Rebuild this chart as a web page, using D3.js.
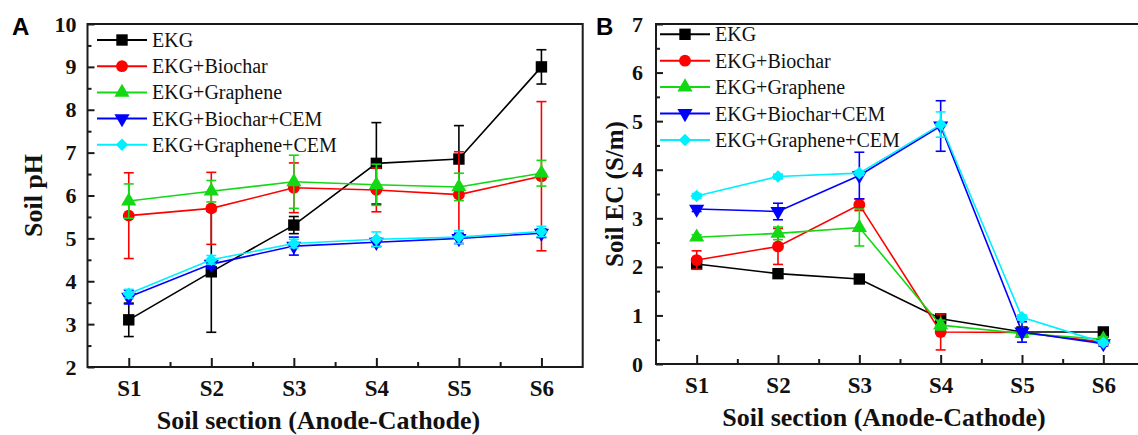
<!DOCTYPE html>
<html>
<head>
<meta charset="utf-8">
<script src="https://cdn.jsdelivr.net/npm/d3@7"></script>
<style>
  body { margin: 0; background: #fff; }
  svg { display: block; }
  .tick text { font-family: "Liberation Serif", "Times New Roman", serif; font-weight: bold; }
</style>
</head>
<body>
<div id="vis-container"></div>
<script>
// categories and series
const sections = ["S1", "S2", "S3", "S4", "S5", "S6"];
const seriesNames = ["EKG", "EKG+Biochar", "EKG+Graphene", "EKG+Biochar+CEM", "EKG+Graphene+CEM"];
const seriesColors = ["#000000", "#ff0000", "#14d814", "#0000ff", "#00f0ff"];

// panel A - soil pH (mean, error)
const phEKG = [3.1, 4.22, 5.31, 6.75, 6.85, 9.0];
const phEKGErr = [0.39, 1.41, 0.2, 0.95, 0.78, 0.4];
const phBiochar = [5.53, 5.7, 6.18, 6.13, 6.02, 6.45];
const phBiocharErr = [1.0, 0.84, 0.58, 0.51, 1.0, 1.74];
const phGraphene = [5.87, 6.1, 6.32, 6.25, 6.2, 6.52];
const phGrapheneErr = [0.4, 0.25, 0.62, 0.48, 0.32, 0.3];
const phBiocharCEM = [3.63, 4.4, 4.82, 4.91, 5.0, 5.12];
const phBiocharCEMErr = [0.16, 0.1, 0.21, 0.1, 0.12, 0.1];
const phGrapheneCEM = [3.71, 4.5, 4.88, 4.98, 5.03, 5.16];
const phGrapheneCEMErr = [0.1, 0.1, 0.1, 0.17, 0.15, 0.12];

// panel B - soil EC (mean, error)
const ecEKG = [2.06, 1.86, 1.75, 0.93, 0.66, 0.66];
const ecEKGErr = [0.05, 0.05, 0.05, 0.1, 0.05, 0.05];
const ecBiochar = [2.14, 2.42, 3.28, 0.66, 0.65, 0.45];
const ecBiocharErr = [0.19, 0.37, 0.12, 0.37, 0.05, 0.05];
const ecGraphene = [2.61, 2.69, 2.81, 0.8, 0.63, 0.51];
const ecGrapheneErr = [0.05, 0.13, 0.38, 0.1, 0.05, 0.05];
const ecBiocharCEM = [3.19, 3.14, 3.88, 4.9, 0.66, 0.42];
const ecBiocharCEMErr = [0.05, 0.17, 0.48, 0.52, 0.21, 0.05];
const ecGrapheneCEM = [3.46, 3.86, 3.93, 4.93, 0.96, 0.44];
const ecGrapheneCEMErr = [0.05, 0.05, 0.05, 0.26, 0.05, 0.05];

// tick values
const phTicks = [2, 3, 4, 5, 6, 7, 8, 9, 10];
const ecTicks = [0, 1, 2, 3, 4, 5, 6, 7];

const w = 1138, h = 435;
const serif = '"Liberation Serif", "Times New Roman", serif';

const svg = d3.select("#vis-container").append("svg")
    .attr("width", w)
    .attr("height", h);

const symbols = [
    d3.symbol().type(d3.symbolSquare).size(130),
    d3.symbol().type(d3.symbolCircle).size(110),
    d3.symbol().type(d3.symbolTriangle).size(100),
    d3.symbol().type(d3.symbolTriangle).size(100),
    d3.symbol().type(d3.symbolDiamond2).size(100)
];
const symbolRotate = [0, 0, 0, 180, 0];

function drawPanel(cfg) {
    const g = svg.append("g");
    const x = d3.scaleLinear().domain([0.5, 6.5]).range([cfg.left, cfg.right]);
    const y = d3.scaleLinear().domain(cfg.yDomain).range([cfg.bottom, cfg.top]);

    // frame
    g.append("rect")
        .attr("x", cfg.left).attr("y", cfg.top)
        .attr("width", cfg.right - cfg.left).attr("height", cfg.bottom - cfg.top)
        .attr("fill", "none").attr("stroke", "#1a1a1a").attr("stroke-width", 2);

    // y axis major + minor ticks (inward)
    const yAxis = d3.axisLeft(y).tickValues(cfg.yTicks).tickFormat(d3.format("d"))
        .tickSize(-7).tickSizeOuter(0).tickPadding(cfg.yPad);
    const ya = g.append("g").attr("transform", "translate(" + cfg.left + ",0)").call(yAxis);
    ya.select(".domain").remove();
    ya.selectAll("line").attr("stroke", "#1a1a1a").attr("stroke-width", 2);
    ya.selectAll("text").style("font-size", "22px").attr("fill", "#111");
    const yMinor = cfg.yTicks.slice(0, -1).map(d => d + 0.5);
    const ym = g.append("g").attr("transform", "translate(" + cfg.left + ",0)")
        .call(d3.axisLeft(y).tickValues(yMinor).tickSize(-4).tickFormat(""));
    ym.select(".domain").remove();
    ym.selectAll("line").attr("stroke", "#1a1a1a").attr("stroke-width", 2);

    // x axis major + minor ticks (inward)
    const xAxis = d3.axisBottom(x).tickValues([1, 2, 3, 4, 5, 6])
        .tickFormat((d, i) => sections[i]).tickSize(-9).tickSizeOuter(0).tickPadding(0);
    const xa = g.append("g").attr("transform", "translate(0," + cfg.bottom + ")").call(xAxis);
    xa.select(".domain").remove();
    xa.selectAll("line").attr("stroke", "#1a1a1a").attr("stroke-width", 2);
    xa.selectAll("text").style("font-size", "23px").attr("fill", "#111")
        .attr("dy", null).attr("y", 29);
    const xm = g.append("g").attr("transform", "translate(0," + cfg.bottom + ")")
        .call(d3.axisBottom(x).tickValues([1.5, 2.5, 3.5, 4.5, 5.5]).tickSize(-5).tickFormat(""));
    xm.select(".domain").remove();
    xm.selectAll("line").attr("stroke", "#1a1a1a").attr("stroke-width", 2);

    const line = d3.line().x((d, i) => x(i + 1)).y(d => y(d));

    cfg.series.forEach((s, k) => {
        const col = seriesColors[k];
        const sg = g.append("g");
        // error bars
        s.values.forEach((v, i) => {
            const cx = x(i + 1);
            const y1 = y(v + s.errs[i]), y2 = y(v - s.errs[i]);
            sg.append("line").attr("x1", cx).attr("x2", cx).attr("y1", y1).attr("y2", y2)
                .attr("stroke", col).attr("stroke-width", 1.6);
            [y1, y2].forEach(yy => {
                sg.append("line").attr("x1", cx - 5).attr("x2", cx + 5).attr("y1", yy).attr("y2", yy)
                    .attr("stroke", col).attr("stroke-width", 1.6);
            });
        });
        sg.append("path").datum(s.values)
            .attr("d", line).attr("fill", "none")
            .attr("stroke", col).attr("stroke-width", 1.6);
        sg.selectAll(".dot").data(s.values).enter().append("path")
            .attr("d", symbols[k])
            .attr("transform", (d, i) => "translate(" + x(i + 1) + "," + y(d) + ") rotate(" + symbolRotate[k] + ")")
            .attr("fill", col);
    });

    // legend
    const legend = g.selectAll(".legend").data(seriesNames).enter().append("g")
        .attr("transform", (d, i) => "translate(0," + (cfg.legY + i * cfg.legStep) + ")");
    legend.append("line")
        .attr("x1", cfg.legX).attr("x2", cfg.legX + 50)
        .attr("stroke", (d, i) => seriesColors[i]).attr("stroke-width", 2);
    legend.append("path")
        .attr("d", (d, i) => symbols[i]())
        .attr("transform", (d, i) => "translate(" + (cfg.legX + 25) + ",0) rotate(" + symbolRotate[i] + ")")
        .attr("fill", (d, i) => seriesColors[i]);
    legend.append("text")
        .attr("x", cfg.legX + 55).attr("dy", "0.35em")
        .style("font-family", serif).style("font-size", "20px").attr("fill", "#111")
        .text(d => d);

    // axis titles
    g.append("text")
        .attr("x", cfg.xTitleX).attr("y", cfg.xTitleY)
        .attr("text-anchor", "middle")
        .style("font-family", serif).style("font-weight", "bold").style("font-size", "26px")
        .attr("fill", "#111")
        .text("Soil section (Anode-Cathode)");
    g.append("text")
        .attr("transform", "translate(" + cfg.yTitleX + "," + ((cfg.top + cfg.bottom) / 2) + ") rotate(-90)")
        .attr("text-anchor", "middle")
        .style("font-family", serif).style("font-weight", "bold").style("font-size", cfg.yTitleSize)
        .attr("fill", "#111")
        .text(cfg.yTitle);

    // panel letter
    g.append("text")
        .attr("x", cfg.letterX).attr("y", 35)
        .style("font-family", '"Liberation Sans", Arial, sans-serif').style("font-weight", "bold")
        .style("font-size", "24px").attr("fill", "#000")
        .text(cfg.letter);
}

drawPanel({
    left: 87.5, right: 582.7, top: 24, bottom: 367,
    yDomain: [2, 10], yTicks: phTicks, yPad: 11,
    series: [
        { values: phEKG, errs: phEKGErr },
        { values: phBiochar, errs: phBiocharErr },
        { values: phGraphene, errs: phGrapheneErr },
        { values: phBiocharCEM, errs: phBiocharCEMErr },
        { values: phGrapheneCEM, errs: phGrapheneCEMErr }
    ],
    legX: 97, legY: 40, legStep: 26.2,
    xTitleX: 318.5, xTitleY: 429,
    yTitleX: 42, yTitle: "Soil pH", yTitleSize: "26px",
    letterX: 12, letter: "A"
});

drawPanel({
    left: 656, right: 1144, top: 24, bottom: 364,
    yDomain: [0, 7], yTicks: ecTicks, yPad: 13,
    series: [
        { values: ecEKG, errs: ecEKGErr },
        { values: ecBiochar, errs: ecBiocharErr },
        { values: ecGraphene, errs: ecGrapheneErr },
        { values: ecBiocharCEM, errs: ecBiocharCEMErr },
        { values: ecGrapheneCEM, errs: ecGrapheneCEMErr }
    ],
    legX: 660, legY: 34.3, legStep: 26.4,
    xTitleX: 884, xTitleY: 426,
    yTitleX: 623, yTitle: "Soil EC (S/m)", yTitleSize: "25px",
    letterX: 596, letter: "B"
});
</script>
</body>
</html>
